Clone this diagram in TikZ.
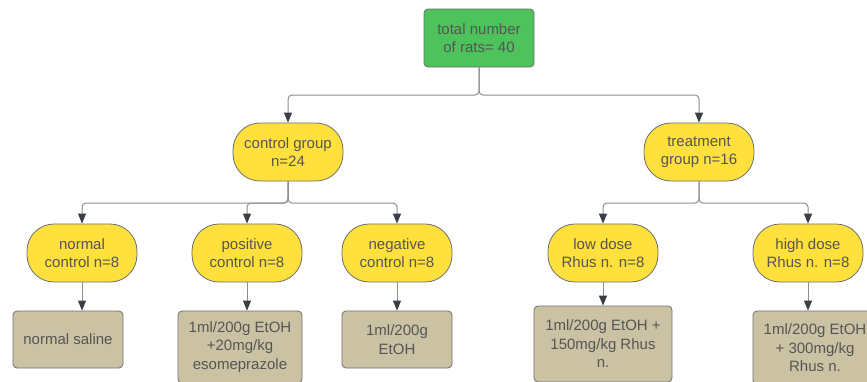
\documentclass[tikz,border=0pt]{standalone}
\usepackage{fontspec}
\setmainfont{Liberation Sans}
\usetikzlibrary{arrows.meta,shapes.misc}
\definecolor{greenfill}{HTML}{4EC25B}
\definecolor{yellowfill}{HTML}{FFE03D}
\definecolor{tanfill}{HTML}{CBC2A4}
\definecolor{bordergray}{HTML}{6E6E6E}
\definecolor{textgray}{HTML}{555555}
\definecolor{linegray}{HTML}{8E8E8E}
\definecolor{tipgray}{HTML}{3A3F47}
\tikzset{
  base/.style={draw=bordergray, line width=0.8pt, text=textgray, align=center,
    font=\fontsize{15}{18.5}\selectfont, inner sep=0pt},
  topbox/.style={base, fill=greenfill, rectangle, rounded corners=4pt,
    minimum width=110pt, minimum height=58pt},
  pill/.style={base, fill=yellowfill, rectangle, rounded corners=27pt,
    minimum width=110pt, minimum height=58pt},
  dosebox/.style={base, fill=tanfill, rectangle, rounded corners=4pt},
  conn/.style={draw=linegray, line width=1pt, rounded corners=4pt,
    -{Triangle[width=8pt,length=10pt,fill=tipgray,color=tipgray]}}
}
\begin{document}
\begin{tikzpicture}[x=1pt,y=-1pt]
\useasboundingbox (0,0) rectangle (867,381);
\clip (0,0) rectangle (867,381);
\fill[white] (0,0) rectangle (867,381);

\node[topbox] (total) at (479,38) {total number\\of rats= 40};

\node[pill] (ctrl) at (288,152) {control group\\n=24};
\node[pill] (treat) at (699,152) {treatment\\group n=16};

\node[pill] (nc) at (82,253) {normal\\control n=8};
\node[pill] (pc) at (247,253) {positive\\control n=8};
\node[pill] (ngc) at (397,253) {negative\\control n=8};
\node[pill] (low) at (603,253) {low dose\\Rhus n. n=8};
\node[pill] (high) at (808,253) {high dose\\Rhus n. n=8};

\node[dosebox, minimum width=110pt, minimum height=57pt] (sal) at (68,339.5) {normal saline};
\node[dosebox, minimum width=124pt, minimum height=72pt] (pcd) at (240,347) {1ml/200g EtOH\\+20mg/kg\\esomeprazole};
\node[dosebox, minimum width=110pt, minimum height=57pt] (ngd) at (397,339.5) {1ml/200g\\EtOH};
\node[dosebox, minimum width=138pt, minimum height=76pt] (lowd) at (603,344) {1ml/200g EtOH +\\150mg/kg Rhus\\n.};
\node[dosebox, minimum width=124pt, minimum height=74pt] (highd) at (815,348) {1ml/200g EtOH\\+ 300mg/kg\\Rhus n.};

\coordinate (j0) at (479,95);
\coordinate (j1) at (288,203);
\coordinate (j2) at (699,203);

\draw[conn] (total.south) -- (j0) -| (ctrl.north);
\draw[conn] (total.south) -- (j0) -| (treat.north);

\draw[conn] (ctrl.south) -- (j1) -| (nc.north);
\draw[conn] (ctrl.south) -- (j1) -| (pc.north);
\draw[conn] (ctrl.south) -- (j1) -| (ngc.north);

\draw[conn] (treat.south) -- (j2) -| (low.north);
\draw[conn] (treat.south) -- (j2) -| (high.north);

\draw[conn] (nc.south) -- (nc.south |- sal.north);
\draw[conn] (pc.south) -- (pc.south |- pcd.north);
\draw[conn] (ngc.south) -- (ngc.south |- ngd.north);
\draw[conn] (low.south) -- (low.south |- lowd.north);
\draw[conn] (high.south) -- (high.south |- highd.north);
\end{tikzpicture}
\end{document}
